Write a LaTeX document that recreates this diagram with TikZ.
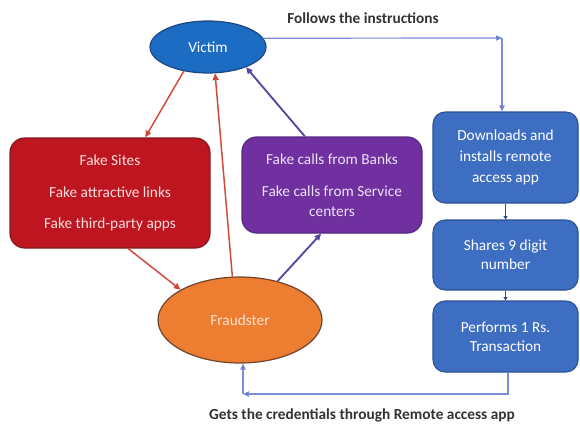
\documentclass[tikz,border=0pt]{standalone}
\usepackage{fontspec}
\setmainfont{Carlito}
\usetikzlibrary{arrows.meta,calc,shapes.geometric}
\definecolor{victimfill}{RGB}{28,108,196}
\definecolor{victimline}{RGB}{30,70,130}
\definecolor{fraudfill}{RGB}{237,125,49}
\definecolor{fraudline}{RGB}{110,70,45}
\definecolor{redfill}{RGB}{190,22,32}
\definecolor{redline}{RGB}{130,25,30}
\definecolor{purplefill}{RGB}{112,48,160}
\definecolor{purpleline}{RGB}{85,40,125}
\definecolor{bluefill}{RGB}{62,110,194}
\definecolor{blueline}{RGB}{45,80,145}
\definecolor{redarrow}{RGB}{208,72,58}
\definecolor{purplearrow}{RGB}{90,68,160}
\definecolor{bluearrow}{RGB}{120,140,215}
\definecolor{bluetip}{RGB}{70,95,185}
\definecolor{labelgray}{RGB}{50,50,50}
\begin{document}
\begin{tikzpicture}[x=0.75pt,y=-0.75pt,
  boxtext/.style={font=\fontsize{11.5}{14.5}\selectfont, align=center, inner sep=0pt},
  ellnode/.style={ellipse, draw, line width=0.9pt, inner sep=0pt, boxtext},
  rbox/.style={rectangle, rounded corners=11pt, draw, line width=0.9pt, boxtext},
  bbox/.style={rectangle, rounded corners=9pt, draw=blueline, fill=bluefill, line width=0.8pt,
    boxtext, text=white, minimum width=145*0.75pt},
  redarr/.style={draw=redarrow, line width=1.1pt, -{Triangle[length=5pt,width=4.5pt]}},
  purparr/.style={draw=purplearrow, line width=1.4pt, -{Triangle[length=5pt,width=4.5pt]}},
  bluearr/.style={draw=bluearrow, line width=0.9pt, -{Triangle[length=4.5pt,width=4pt,fill=bluetip]}},
  smallarr/.style={draw=blueline, line width=0.8pt, -{Triangle[length=2.5pt,width=3pt]}},
  caption/.style={font=\fontsize{11.5}{14}\selectfont\bfseries, text=labelgray, inner sep=0pt}
]
\path[use as bounding box] (0,0) rectangle (580,428);

\node[ellnode, draw=victimline, fill=victimfill, text=white,
      minimum width=116*0.75pt, minimum height=52*0.75pt] (victim) at (208,47) {Victim};
\node[ellnode, draw=fraudline, fill=fraudfill, text={rgb,255:red,252;green,228;blue,210},
      minimum width=164*0.75pt, minimum height=86*0.75pt] (fraud) at (240,320) {Fraudster};

\node[rbox, draw=redline, fill=redfill, text={rgb,255:red,250;green,222;blue,222},
      minimum width=200*0.75pt, minimum height=110*0.75pt] (redbox) at (110,193)
  {Fake Sites\\[9pt]Fake attractive links\\[9pt]Fake third-party apps};
\node[rbox, draw=purpleline, fill=purplefill, text={rgb,255:red,236;green,226;blue,245},
      minimum width=180*0.75pt, minimum height=96*0.75pt] (purplebox) at (332,185)
  {Fake calls from Banks\\[10pt]Fake calls from Service\\centers};

\node[bbox, minimum height=91*0.75pt] (dl) at (505.5,157.5)
  {Downloads and\\[1.5pt]installs remote\\[1.5pt]access app};
\node[bbox, minimum height=70*0.75pt] (sh) at (505.5,255) {Shares 9 digit\\number};
\node[bbox, minimum height=71*0.75pt] (pf) at (505.5,336.5) {Performs 1 Rs.\\Transaction};

\node[caption] (follows) at (363,18) {Follows the instructions};
\node[caption] (gets) at (362,415) {Gets the credentials through Remote access app};

% red and purple connectors
\draw[redarr] (victim.225) -- ($(redbox.north west)!0.675!(redbox.north east)$);
\draw[redarr] ($(redbox.south west)!0.59!(redbox.south east)$) -- (fraud.153);
\draw[redarr] (fraud.100) -- (victim.285);
\draw[purparr] ($(purplebox.north west)!0.35!(purplebox.north east)$) -- (victim.332);
\draw[purparr] (fraud.46) -- ($(purplebox.south west)!0.44!(purplebox.south east)$);

% blue connectors
\coordinate (c1) at (502,38);
\draw[bluearr] (victim.9) -- (c1);
\draw[bluearr] (c1) -- (c1 |- dl.north);
\draw[smallarr] (dl.south) -- (sh.north);
\draw[smallarr] (sh.south) -- (pf.south |- pf.north);
\coordinate (c2) at (508,394);
\coordinate (c3) at (243,394);
\draw[bluearr] (c2 |- pf.south) -- (c2) -- (c3);
\draw[bluearr] (c3) -- (c3 |- fraud.south);
\end{tikzpicture}
\end{document}
